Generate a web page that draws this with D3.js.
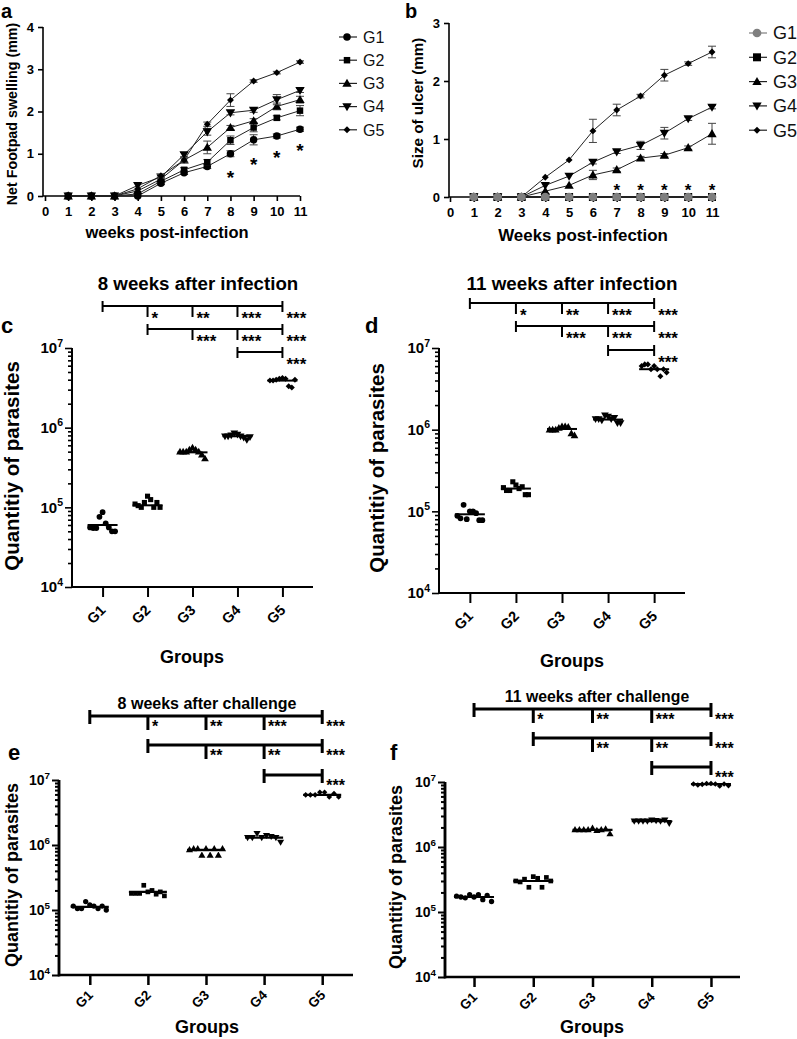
<!DOCTYPE html>
<html><head><meta charset="utf-8">
<script src="https://cdn.jsdelivr.net/npm/d3@7"></script>
<style>
body{margin:0;background:#fff}
svg{display:block}
text{font-family:"Liberation Sans",Arial,Helvetica,sans-serif}
</style>
</head><body>
<svg id="chart" width="797" height="1039"></svg>
<script>
// ---------------- DATA ----------------
const weeks = [1,2,3,4,5,6,7,8,9,10,11];
const weekTicks = [0,1,2,3,4,5,6,7,8,9,10,11];
const groups = ["G1","G2","G3","G4","G5"];

// Panel a: net footpad swelling (mm)
const swellG1 = [0,0,0,0.00,0.30,0.55,0.70,1.00,1.33,1.42,1.58];
const swellG2 = [0,0,0,0.05,0.35,0.62,0.80,1.32,1.62,1.85,2.02];
const swellG3 = [0,0,0,0.12,0.40,0.85,1.15,1.62,1.78,2.12,2.28];
const swellG4 = [0,0,0,0.25,0.45,0.98,1.52,1.97,2.03,2.28,2.50];
const swellG5 = [0,0,0,0.17,0.48,0.85,1.70,2.27,2.72,2.92,3.17];
const swellErrG1 = [0,0,0,0,0.03,0.04,0.05,0.07,0.12,0.05,0.05];
const swellErrG2 = [0,0,0,0,0.03,0.05,0.06,0.10,0.10,0.05,0.12];
const swellErrG3 = [0,0,0,0,0.03,0.05,0.15,0.05,0.05,0.08,0.08];
const swellErrG4 = [0,0,0,0,0.03,0.05,0.08,0.05,0.05,0.12,0.05];
const swellErrG5 = [0,0,0,0,0.03,0.05,0.05,0.15,0.03,0.03,0.03];
const swellStars = [{week:8, y:0.57},{week:9, y:0.87},{week:10, y:1.05},{week:11, y:1.2}];

// Panel b: size of ulcer (mm)
const ulcerG1 = [0,0,0,0,0,0,0,0,0,0,0];
const ulcerG2 = [0,0,0,0,0,0,0,0,0,0,0];
const ulcerG3 = [0,0,0,0.10,0.20,0.38,0.47,0.67,0.72,0.85,1.09];
const ulcerG4 = [0,0,0,0.20,0.36,0.60,0.78,0.89,1.10,1.35,1.55];
const ulcerG5 = [0,0,0,0.34,0.64,1.14,1.50,1.74,2.10,2.30,2.50];
const ulcerErrG3 = [0,0,0,0,0,0.08,0.03,0.03,0.03,0.03,0.18];
const ulcerErrG4 = [0,0,0,0,0,0.03,0.03,0.07,0.10,0.03,0.03];
const ulcerErrG5 = [0,0,0,0,0,0.20,0.10,0.03,0.10,0.03,0.10];
const ulcerStars = [{week:7,y:0.2},{week:8,y:0.2},{week:9,y:0.2},{week:10,y:0.2},{week:11,y:0.2}];

// Panel c: 8 weeks after infection (parasite load)
const c_G1 = [5.6e4,5.5e4,5.5e4,7.6e4,8.7e4,6.3e4,5.6e4,5.0e4,5.0e4];
const c_G2 = [1.1e5,1.05e5,1.0e5,1.15e5,1.38e5,1.25e5,1.0e5,1.15e5,1.0e5];
const c_G3 = [5.0e5,5.0e5,5.0e5,5.3e5,5.6e5,5.3e5,5.0e5,4.6e5,4.1e5];
const c_G4 = [7.8e5,7.8e5,8.0e5,8.5e5,8.2e5,7.8e5,7.5e5,7.0e5,7.6e5];
const c_G5 = [3.9e6,3.9e6,4.0e6,4.1e6,4.2e6,4.1e6,3.3e6,3.2e6,4.0e6];
const c_median = [6.0e4,1.06e5,4.9e5,7.8e5,3.9e6];

// Panel d: 11 weeks after infection
const d_G1 = [8.8e4,8.2e4,1.2e5,8.0e4,1.0e5,1.0e5,9.5e4,7.8e4,7.8e4];
const d_G2 = [1.95e5,1.8e5,1.8e5,2.3e5,2.1e5,1.9e5,2.0e5,1.6e5,1.6e5];
const d_G3 = [1.0e6,1.0e6,1.0e6,1.05e6,1.1e6,1.1e6,1.08e6,9.0e5,8.5e5];
const d_G4 = [1.35e6,1.35e6,1.3e6,1.5e6,1.45e6,1.35e6,1.4e6,1.2e6,1.2e6];
const d_G5 = [6.0e6,6.3e6,6.3e6,5.5e6,6.0e6,5.5e6,4.5e6,5.5e6,5.0e6];
const d_median = [9.2e4,1.9e5,1.02e6,1.33e6,5.5e6];

// Panel e: 8 weeks after challenge
const e_G1 = [1.15e5,1.05e5,1.05e5,1.35e5,1.2e5,1.15e5,1.05e5,1.15e5,1.0e5];
const e_G2 = [1.8e5,1.8e5,1.8e5,2.4e5,1.9e5,2.0e5,1.75e5,1.9e5,1.65e5];
const e_G3 = [8.5e5,8.8e5,8.8e5,7.0e5,8.8e5,7.0e5,8.8e5,7.0e5,8.8e5];
const e_G4 = [1.3e6,1.3e6,1.5e6,1.3e6,1.4e6,1.35e6,1.3e6,1.1e6];
const e_G5 = [5.9e6,5.9e6,5.9e6,6.5e6,6.5e6,5.5e6,6.2e6,5.5e6];
const e_median = [1.12e5,1.9e5,8.4e5,1.3e6,5.9e6];

// Panel f: 11 weeks after challenge
const f_G1 = [1.75e5,1.7e5,1.65e5,1.85e5,1.7e5,1.85e5,1.55e5,1.8e5,1.45e5];
const f_G2 = [3.0e5,2.9e5,3.2e5,2.4e5,3.5e5,3.3e5,2.4e5,3.4e5,3.0e5];
const f_G3 = [1.85e6,1.85e6,1.85e6,1.85e6,1.95e6,1.8e6,1.85e6,1.9e6,1.6e6];
const f_G4 = [2.5e6,2.5e6,2.5e6,2.5e6,2.6e6,2.55e6,2.5e6,2.6e6,2.3e6];
const f_G5 = [9.3e6,9.0e6,9.2e6,9.5e6,9.5e6,9.3e6,8.7e6,9.3e6,8.8e6];
const f_median = [1.7e5,3.0e5,1.83e6,2.5e6,9.3e6];

const logTicks = [1e4,1e5,1e6,1e7];

// significance comparisons
const sigInfection = [
  {from:"G1", mids:["G2","G3","G4"], to:"G5", labels:["*","**","***","***"]},
  {from:"G2", mids:["G3","G4"], to:"G5", labels:["***","***","***"]},
  {from:"G4", mids:[], to:"G5", labels:["***"]}
];
const sigChallenge = [
  {from:"G1", mids:["G2","G3","G4"], to:"G5", labels:["*","**","***","***"]},
  {from:"G2", mids:["G3","G4"], to:"G5", labels:["**","**","***"]},
  {from:"G4", mids:[], to:"G5", labels:["***"]}
];

// ---------------- DRAWING ----------------
const svg = d3.select("#chart");
const FONT = '"Liberation Sans",Arial,Helvetica,sans-serif';

function sym(type, size){
  const map = {circle:d3.symbolCircle, square:d3.symbolSquare, triangle:d3.symbolTriangle,
               tdown:d3.symbolTriangle, diamond:d3.symbolSquare};
  return d3.symbol().type(map[type]).size(size)();
}
function symRot(type){ return type==="tdown" ? 180 : (type==="diamond" ? 45 : 0); }
function symDy(type, size){
  if(type==="triangle") return Math.sqrt(size)*0.12;
  if(type==="tdown") return -Math.sqrt(size)*0.12;
  return 0;
}
function drawSym(g, type, x, y, size, fill){
  g.append("path").attr("d", sym(type,size))
   .attr("transform", `translate(${x},${y+symDy(type,size)}) rotate(${symRot(type)})`)
   .attr("fill", fill);
}

const shapes = ["circle","square","triangle","tdown","diamond"];

// ---- line panel ----
function linePanel(o){
  const g = svg.append("g");
  const x = d3.scaleLinear().domain([0,11]).range([o.x0, o.x1]);
  const y = d3.scaleLinear().domain([0,o.ymax]).range([o.y0, o.y1]);
  const ya = g.append("g").attr("transform",`translate(${o.axX},0)`)
    .call(d3.axisLeft(y).tickValues(d3.range(0,o.ymax+1)).tickFormat(d3.format("d")).tickSize(5).tickPadding(4));
  const xa = g.append("g").attr("transform",`translate(0,${o.y0})`)
    .call(d3.axisBottom(x).tickValues(weekTicks).tickSize(5).tickPadding(6));
  [ya,xa].forEach(a=>{
    a.select(".domain").attr("stroke","#000").attr("stroke-width",1.6);
    a.selectAll(".tick line").attr("stroke","#000").attr("stroke-width",1.6);
    a.selectAll(".tick text").attr("font-family",FONT).attr("font-weight","bold").attr("font-size",13).attr("fill","#000");
  });
  ya.select(".domain").attr("d",`M0,${o.y0}V${o.y1}`);
  xa.select(".domain").attr("d",`M${o.axX},0H${o.x1}`);
  o.series.forEach((s,i)=>{
    const pts = weeks.map((w,k)=>({w, v:s.vals[k], e:s.err? s.err[k]:0}));
    const gl = g.append("g");
    gl.append("path").datum(pts)
      .attr("d", d3.line().x(d=>x(d.w)).y(d=>y(d.v)))
      .attr("fill","none").attr("stroke", s.line||"#222").attr("stroke-width", s.lw||1);
    pts.forEach(p=>{
      if(p.e>0){
        const cw=4;
        gl.append("path").attr("d",`M${x(p.w)},${y(p.v-p.e)}V${y(p.v+p.e)}M${x(p.w)-cw},${y(p.v+p.e)}H${x(p.w)+cw}M${x(p.w)-cw},${y(p.v-p.e)}H${x(p.w)+cw}`)
          .attr("stroke","#444").attr("stroke-width",1).attr("fill","none");
      }
    });
    if(!s.skipMarkers) pts.forEach(p=> drawSym(gl, s.shape, x(p.w), y(p.v), s.size||36, s.fill||"#000"));
  });
  (o.topSeries||[]).forEach(s=>{
    weeks.forEach((w,k)=> drawSym(g, s.shape, x(w), y(s.vals[k]), s.size, s.fill));
  });
  o.stars.forEach(st=>{
    g.append("text").attr("x",x(st.week)).attr("y",y(st.y)+o.starOff).attr("text-anchor","middle")
      .attr("font-family",FONT).attr("font-weight","bold").attr("font-size",o.starSize).text("*");
  });
  g.append("text").attr("x",o.xtX).attr("y",o.xtY).attr("text-anchor","middle")
    .attr("font-family",FONT).attr("font-weight","bold").attr("font-size",o.xtSize).text(o.xTitle);
  g.append("text").attr("transform",`translate(${o.ytX},${o.ytY}) rotate(-90)`).attr("text-anchor","middle")
    .attr("font-family",FONT).attr("font-weight","bold").attr("font-size",o.ytSize).text(o.yTitle);
  o.series.forEach((s,i)=>{
    const ly = o.legY + i*o.legStep;
    g.append("line").attr("x1",o.legX-8).attr("x2",o.legX+10).attr("y1",ly).attr("y2",ly)
      .attr("stroke", s.line||"#222").attr("stroke-width",1.2);
    drawSym(g, s.shape, o.legX, ly, s.legSize||s.size||36, s.fill||"#000");
    g.append("text").attr("x",o.legX+o.legDx).attr("y",ly+o.legFont*0.36).attr("font-family",FONT)
      .attr("font-size",o.legFont).attr("fill","#111").text(groups[i]);
  });
  g.append("text").attr("x",o.letX).attr("y",o.letY).attr("font-family",FONT).attr("font-weight","bold").attr("font-size",20).text(o.letter);
}

linePanel({
  letter:"a", letX:1, letY:17.5,
  x0:45, x1:300, y0:196, y1:27, ymax:4, axX:43,
  xTitle:"weeks post-infection", xtX:167, xtY:238, xtSize:16.5,
  yTitle:"Net Footpad swelling (mm)", ytX:17, ytY:114, ytSize:14.3,
  legX:347, legY:37, legStep:23.2, legDx:16, legFont:16, starSize:19, starOff:12,
  stars: swellStars,
  series:[
    {vals:swellG1, err:swellErrG1, shape:"circle", size:44},
    {vals:swellG2, err:swellErrG2, shape:"square", size:42},
    {vals:swellG3, err:swellErrG3, shape:"triangle", size:38},
    {vals:swellG4, err:swellErrG4, shape:"tdown", size:38},
    {vals:swellG5, err:swellErrG5, shape:"diamond", size:24}
  ]
});

linePanel({
  letter:"b", letX:405, letY:17.5,
  x0:450, x1:712, y0:197, y1:23, ymax:3, axX:449,
  xTitle:"Weeks post-infection", xtX:583, xtY:241, xtSize:16.9,
  yTitle:"Size of ulcer (mm)", ytX:423, ytY:103, ytSize:15.2,
  legX:757, legY:33, legStep:24.3, legDx:16, legFont:18, starSize:17, starOff:11,
  stars: ulcerStars,
  series:[
    {vals:ulcerG1, shape:"circle", size:60, fill:"#7f7f7f", line:"#7f7f7f", skipMarkers:true},
    {vals:ulcerG2, shape:"square", size:64, lw:2},
    {vals:ulcerG3, err:ulcerErrG3, shape:"triangle", size:38},
    {vals:ulcerG4, err:ulcerErrG4, shape:"tdown", size:38},
    {vals:ulcerG5, err:ulcerErrG5, shape:"diamond", size:24}
  ],
  topSeries:[{vals:ulcerG1, shape:"circle", size:60, fill:"#7f7f7f"}]
});

// ---- scatter panels ----
function scatterPanel(o){
  const g = svg.append("g");
  const x = d3.scalePoint().domain(groups).range([o.ax0, o.ax1]).padding(o.pad);
  const y = d3.scaleLog().domain([1e4,1e7]).range([o.y0, o.y1]);
  const sw = o.sw;
  const minor = [];
  [1e4,1e5,1e6].forEach(d=>{ for(let m=2;m<=9;m++) minor.push(d*m); });
  const ya = g.append("g").attr("transform",`translate(${o.ax0},0)`)
    .call(d3.axisLeft(y).tickValues(minor).tickFormat("").tickSize(o.minorLen));
  const yb = g.append("g").attr("transform",`translate(${o.ax0},0)`)
    .call(d3.axisLeft(y).tickValues(logTicks).tickFormat("").tickSize(o.majorLen));
  [ya,yb].forEach(a=>{
    a.select(".domain").attr("d",`M0,${o.y0+sw/2}V${o.y1}`).attr("stroke","#000").attr("stroke-width",sw);
    a.selectAll(".tick line").attr("stroke","#000").attr("stroke-width",sw*0.8);
  });
  logTicks.forEach(t=>{
    const tx = g.append("text").attr("x",o.ax0-o.majorLen-2).attr("y",y(t)+o.labSize*0.36)
      .attr("text-anchor","end").attr("font-family",FONT).attr("font-weight","bold").attr("font-size",o.labSize);
    tx.append("tspan").text("10");
    tx.append("tspan").attr("dy",-o.labSize*0.45).attr("font-size",o.labSize*0.7).text(String(Math.round(Math.log10(t))));
  });
  const xa = g.append("g").attr("transform",`translate(0,${o.y0})`)
    .call(d3.axisBottom(x).tickSize(o.majorLen+3).tickFormat(""));
  xa.select(".domain").attr("d",`M${o.ax0},0H${o.ax1}`).attr("stroke","#000").attr("stroke-width",sw);
  xa.selectAll(".tick line").attr("stroke","#000").attr("stroke-width",sw);
  groups.forEach(gname=>{
    g.append("text").attr("transform",`translate(${x(gname)+o.labDx},${o.y0+o.labDy}) rotate(-45)`)
      .attr("text-anchor","end").attr("font-family",FONT).attr("font-weight","bold").attr("font-size",o.gSize).text(gname);
  });
  o.data.forEach((vals,i)=>{
    const cx = x(groups[i]);
    const n = vals.length;
    const step = (2*o.half - 2*o.r)/(n-1);
    vals.forEach((v,k)=>{
      drawSym(g, shapes[i], cx - o.half + o.r + k*step, y(v), shapes[i]==="diamond"? o.msize*0.7 : o.msize, "#000");
    });
    g.append("line").attr("x1",cx-o.half).attr("x2",cx+o.half).attr("y1",y(o.median[i])).attr("y2",y(o.median[i]))
      .attr("stroke","#000").attr("stroke-width",o.medW);
  });
  o.sig.forEach((row,ri)=>{
    const by = o.sigY[ri];
    const xs = x(row.from), xe = x(row.to);
    g.append("line").attr("x1",xs).attr("x2",xe).attr("y1",by).attr("y2",by).attr("stroke","#000").attr("stroke-width",o.sigW);
    g.append("line").attr("x1",xs).attr("x2",xs).attr("y1",by-o.capUp).attr("y2",by+o.capDn).attr("stroke","#000").attr("stroke-width",o.sigW);
    g.append("line").attr("x1",xe).attr("x2",xe).attr("y1",by-o.capUp).attr("y2",by+o.capDn).attr("stroke","#000").attr("stroke-width",o.sigW);
    row.mids.forEach((m,mi)=>{
      const mx = x(m);
      g.append("line").attr("x1",mx).attr("x2",mx).attr("y1",by).attr("y2",by+o.tickDn).attr("stroke","#000").attr("stroke-width",o.sigW);
      g.append("text").attr("x",mx+4).attr("y",by+o.starDy).attr("font-family",FONT).attr("font-weight","bold").attr("font-size",o.starSize).text(row.labels[mi]);
    });
    g.append("text").attr("x",xe+4).attr("y",by+o.starDy).attr("font-family",FONT).attr("font-weight","bold").attr("font-size",o.starSize).text(row.labels[row.labels.length-1]);
  });
  g.append("text").attr("x",o.titleX).attr("y",o.titleY).attr("text-anchor","middle")
    .attr("font-family",FONT).attr("font-weight","bold").attr("font-size",o.titleSize).text(o.title);
  g.append("text").attr("x",o.groupsX).attr("y",o.groupsY).attr("text-anchor","middle")
    .attr("font-family",FONT).attr("font-weight","bold").attr("font-size",18).text("Groups");
  g.append("text").attr("transform",`translate(${o.ytX},${o.ytY}) rotate(-90)`).attr("text-anchor","middle")
    .attr("font-family",FONT).attr("font-weight","bold").attr("font-size",o.ytSize).text("Quantitiy of parasites");
  g.append("text").attr("x",o.letX).attr("y",o.letY).attr("font-family",FONT).attr("font-weight","bold").attr("font-size",22).text(o.letter);
}

scatterPanel({
  letter:"c", letX:1, letY:333,
  ax0:72, ax1:313, pad:0.68, y0:587, y1:348, sw:2,
  minorLen:4, majorLen:7, labSize:15, gSize:14.5, labDx:4, labDy:24,
  data:[c_G1,c_G2,c_G3,c_G4,c_G5], median:c_median, half:15, r:2.5, msize:26, medW:2,
  sig:sigInfection, sigY:[306,329,352], sigW:2, capUp:5, capDn:6, tickDn:11, starDy:18, starSize:17,
  title:"8 weeks after infection", titleX:198, titleY:290, titleSize:18.7,
  groupsX:192, groupsY:663, ytX:19, ytY:466, ytSize:20.5
});
scatterPanel({
  letter:"d", letX:365, letY:333,
  ax0:439, ax1:685, pad:0.67, y0:593, y1:348, sw:2,
  minorLen:4, majorLen:7, labSize:15, gSize:14.5, labDx:4, labDy:24,
  data:[d_G1,d_G2,d_G3,d_G4,d_G5], median:d_median, half:15, r:2.5, msize:26, medW:2,
  sig:sigInfection, sigY:[303,326,350], sigW:2, capUp:5, capDn:6, tickDn:11, starDy:18, starSize:17,
  title:"11 weeks after infection", titleX:572, titleY:290, titleSize:18.8,
  groupsX:572, groupsY:667, ytX:384, ytY:468, ytSize:20.5
});
scatterPanel({
  letter:"e", letX:8, letY:760,
  ax0:59, ax1:353, pad:0.53, y0:975, y1:780, sw:2.5,
  minorLen:4, majorLen:7, labSize:14, gSize:13.5, labDx:4, labDy:21,
  data:[e_G1,e_G2,e_G3,e_G4,e_G5], median:e_median, half:19, r:2.5, msize:22, medW:2.2,
  sig:sigChallenge, sigY:[716,745,775], sigW:3, capUp:6, capDn:8, tickDn:14, starDy:16, starSize:16,
  title:"8 weeks after challenge", titleX:207, titleY:709, titleSize:16,
  groupsX:207, groupsY:1033, ytX:18, ytY:875, ytSize:18
});
scatterPanel({
  letter:"f", letX:390, letY:760,
  ax0:445, ax1:740, pad:0.49, y0:977, y1:782, sw:2.5,
  minorLen:4, majorLen:7, labSize:14, gSize:13.5, labDx:4, labDy:21,
  data:[f_G1,f_G2,f_G3,f_G4,f_G5], median:f_median, half:20, r:2.5, msize:22, medW:2.2,
  sig:sigChallenge, sigY:[709,738,767], sigW:3, capUp:6, capDn:8, tickDn:14, starDy:16, starSize:16,
  title:"11 weeks after challenge", titleX:597, titleY:702, titleSize:15.8,
  groupsX:592, groupsY:1033, ytX:402, ytY:877, ytSize:18
});
</script>
</body></html>
